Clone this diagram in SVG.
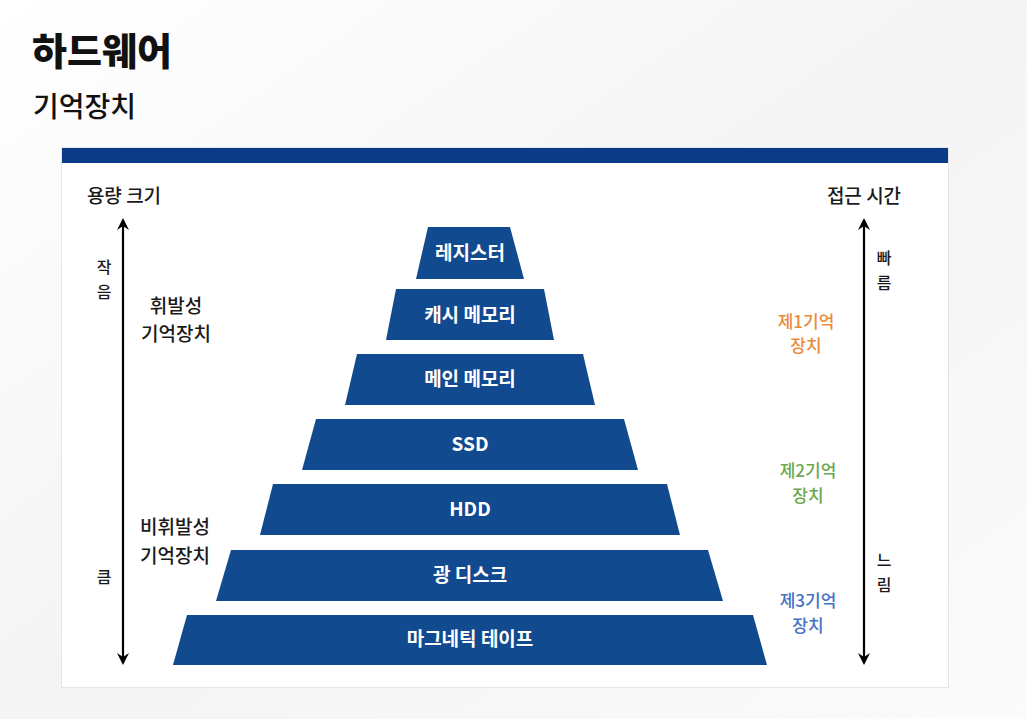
<svg xmlns="http://www.w3.org/2000/svg" width="1027" height="719" viewBox="0 0 1027 719">
<defs>
<style>
.kr{font-family:"Noto Sans CJK KR","Noto Sans",sans-serif;}
.tier{fill:#124a8f;}
.tl{font-family:"Noto Sans CJK KR","Noto Sans",sans-serif;font-size:19px;font-weight:700;fill:#ffffff;text-anchor:middle;}
.lbl{font-family:"Noto Sans CJK KR","Noto Sans",sans-serif;font-size:19px;font-weight:500;fill:#1a1a1a;text-anchor:middle;}
.sm{font-family:"Noto Sans CJK KR","Noto Sans",sans-serif;font-size:16px;font-weight:500;fill:#1a1a1a;text-anchor:middle;}
.lv{font-family:"Noto Sans CJK KR","Noto Sans",sans-serif;font-size:17px;font-weight:500;text-anchor:middle;}
.axis{stroke:#000;stroke-width:2.2;fill:none;}
</style>
<marker id="ah" viewBox="0 0 12 12" refX="10" refY="6" markerWidth="12" markerHeight="12" markerUnits="userSpaceOnUse" orient="auto-start-reverse">
<path d="M0,0 L12,6 L0,12 L4,6 Z" fill="#000"/>
</marker>
<linearGradient id="bg" x1="0" y1="0" x2="1" y2="1">
<stop offset="0" stop-color="#ffffff"/>
<stop offset="0.5" stop-color="#f4f4f4"/>
<stop offset="1" stop-color="#fbfbfb"/>
</linearGradient>
</defs>
<rect width="1027" height="719" fill="url(#bg)"/>
<text x="32" y="65" class="kr" font-size="38" font-weight="900" fill="#111">하드웨어</text>
<text x="33" y="117" class="kr" font-size="28" font-weight="500" fill="#111">기억장치</text>
<rect x="61" y="147" width="888" height="541" fill="#e6e6e6"/>
<rect x="62" y="148" width="886" height="539" fill="#ffffff"/>
<rect x="62" y="148" width="886" height="15" fill="#0b3a86"/>

<g id="connectors">
<line class="axis" x1="123" y1="220" x2="123" y2="663" marker-start="url(#ah)" marker-end="url(#ah)"/>
<line class="axis" x1="864" y1="220" x2="864" y2="663" marker-start="url(#ah)" marker-end="url(#ah)"/>
</g>

<g id="left-axis">
<text x="124" y="203" class="lbl">용량 크기</text>
<text x="104" y="273" class="sm">작</text>
<text x="104" y="298" class="sm">음</text>
<text x="104" y="583" class="sm">큼</text>
</g>
<g id="volatile">
<text x="176" y="313" class="lbl">휘발성</text>
<text x="176" y="341" class="lbl">기억장치</text>
</g>
<g id="nonvolatile">
<text x="175" y="534" class="lbl">비휘발성</text>
<text x="175" y="563" class="lbl">기억장치</text>
</g>

<g id="right-axis">
<text x="864" y="203" class="lbl">접근 시간</text>
<text x="884" y="264" class="sm">빠</text>
<text x="884" y="289" class="sm">름</text>
<text x="884" y="566" class="sm">느</text>
<text x="884" y="591" class="sm">림</text>
</g>
<g id="level1">
<text x="806" y="328" class="lv" fill="#ea8a3c">제1기억</text>
<text x="806" y="352" class="lv" fill="#ea8a3c">장치</text>
</g>
<g id="level2">
<text x="808" y="477" class="lv" fill="#6aa84f">제2기억</text>
<text x="808" y="502" class="lv" fill="#6aa84f">장치</text>
</g>
<g id="level3">
<text x="808" y="607" class="lv" fill="#4472c4">제3기억</text>
<text x="808" y="632" class="lv" fill="#4472c4">장치</text>
</g>

<g id="register">
<polygon class="tier" points="428,227 510,227 524,279 416,279"/>
<text x="470" y="260" class="tl">레지스터</text>
</g>
<g id="cache">
<polygon class="tier" points="396,289 544,289 554,340 386,340"/>
<text x="470" y="322" class="tl">캐시 메모리</text>
</g>
<g id="main-memory">
<polygon class="tier" points="357,354 583,354 595,405 345,405"/>
<text x="470" y="386" class="tl">메인 메모리</text>
</g>
<g id="ssd">
<polygon class="tier" points="316,419 624,419 638,470 302,470"/>
<text x="470" y="451" class="tl">SSD</text>
</g>
<g id="hdd">
<polygon class="tier" points="273,484 667,484 680,535 260,535"/>
<text x="470" y="516" class="tl">HDD</text>
</g>
<g id="optical-disk">
<polygon class="tier" points="231,550 708,550 723,601 216,601"/>
<text x="470" y="582" class="tl">광 디스크</text>
</g>
<g id="magnetic-tape">
<polygon class="tier" points="187,615 753,615 767,665 173,665"/>
<text x="470" y="646" class="tl">마그네틱 테이프</text>
</g>
</svg>
